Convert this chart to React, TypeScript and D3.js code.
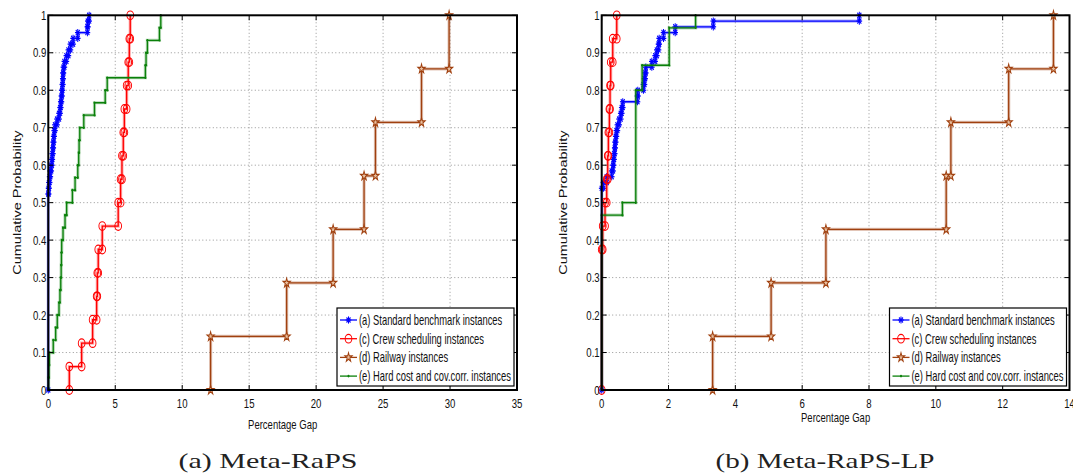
import { useEffect, useRef } from "react";
import * as d3 from "d3";

const width = 1073;
const height = 476;

// percentage gaps per instance
// (a) Meta-RaPS
const rapsStandard = [
  0, 0, 0, 0, 0, 0, 0, 0, 0, 0, 0, 0, 0, 0, 0, 0, 0,
  0, 0, 0, 0, 0, 0, 0, 0, 0, 0, 0, 0, 0, 0, 0, 0, 0,
  0.02, 0.05, 0.1, 0.15, 0.22, 0.27, 0.3, 0.34, 0.37, 0.4, 0.44, 0.5, 0.65, 0.8, 0.88, 0.93,
  0.98, 1.02, 1.05, 1.08, 1.1, 1.13, 1.2, 1.35, 1.5, 1.65, 1.85, 2.2, 2.92, 2.95, 3.05,
];
const rapsCrew = [1.57, 2.49, 3.31, 3.61, 3.66, 3.73, 4.03, 5.22, 5.4, 5.5, 5.6, 5.68, 5.85, 5.97, 6.05, 6.12];
const rapsRailway = [12.12, 17.8, 21.27, 23.58, 24.43, 27.87, 29.93];
const rapsHard = [
  0.02, 0.05, 0.08, 0.37, 0.55, 0.67, 0.8, 0.87, 0.93, 0.96, 0.98, 1.0, 1.1, 1.25, 1.37,
  1.8, 2.0, 2.2, 2.27, 2.3, 2.35, 2.65, 3.45, 4.25, 4.4, 7.25, 7.3, 7.4, 8.3, 8.4,
];

// (b) Meta-RaPS-LP
const lpStandard = [
  0, 0, 0, 0, 0, 0, 0, 0, 0, 0, 0, 0, 0, 0, 0, 0, 0, 0,
  0, 0, 0, 0, 0, 0, 0, 0, 0, 0, 0, 0, 0, 0, 0, 0, 0,
  0.05, 0.15, 0.3, 0.34, 0.35, 0.37, 0.39, 0.4, 0.42, 0.44, 0.47, 0.52, 0.57, 0.6, 0.63,
  1.07, 1.08, 1.25, 1.28, 1.3, 1.32, 1.5, 1.6, 1.65, 1.7, 1.72, 1.85, 2.2, 3.34, 7.71,
];
const lpCrew = [0, 0, 0, 0, 0, 0, 0.03, 0.1, 0.15, 0.18, 0.2, 0.23, 0.25, 0.27, 0.33, 0.45];
const lpRailway = [3.32, 5.07, 6.71, 10.31, 10.45, 12.18, 13.52];
const lpHard = [
  0, 0, 0, 0, 0, 0, 0, 0, 0, 0, 0, 0, 0, 0,
  0.62, 1.02, 1.02, 1.02, 1.02, 1.02, 1.02, 1.02, 1.02, 1.02,
  1.21, 1.21, 2.02, 2.02, 2.02, 2.81,
];

const legendLabels = [
  "(a) Standard benchmark instances",
  "(c) Crew scheduling instances",
  "(d) Railway instances",
  "(e) Hard cost and cov.corr. instances",
];
const seriesColors = ["#0000ff", "#ff0000", "#a0400f", "#0a800a"];
const seriesMarkers = ["star", "circle", "pentagram", "dot"];

const xLabel = "Percentage Gap";
const yLabel = "Cumulative Probability";

const panels = [
  { caption: "(a) Meta-RaPS", xMax: 35, left: 48.3, right: 517, capX: 268, capW: 179, xlabY: 429, ylabX: 17,
    data: [rapsStandard, rapsCrew, rapsRailway, rapsHard] },
  { caption: "(b) Meta-RaPS-LP", xMax: 14, left: 601.7, right: 1069.5, capX: 825, capW: 219, xlabY: 422, ylabX: 563,
    data: [lpStandard, lpCrew, lpRailway, lpHard] },
];

const top = 15.3;
const bottom = 390;
const tickFont = "'Liberation Sans', Arial, sans-serif";

// stair vertices of the empirical cdf (ties collapse into one jump)
function stairPoints(gaps: number[]) {
  const xs = gaps.slice().sort(d3.ascending);
  const n = xs.length;
  const pts: [number, number][] = [];
  let f = 0;
  let i = 0;
  while (i < n) {
    const v = xs[i];
    let j = i;
    while (j < n && xs[j] === v) j++;
    pts.push([v, f]);
    f = j / n;
    pts.push([v, f]);
    i = j;
  }
  return pts;
}

function drawMarker(g: any, kind: string, color: string, x: number, y: number) {
  const m = g.append("g").attr("transform", `translate(${x},${y}) scale(0.78,1)`);
  if (kind === "star") {
    const r = 3.6;
    [0, 45, 90, 135].forEach((a) => {
      const rad = (a * Math.PI) / 180;
      m.append("line")
        .attr("x1", -r * Math.cos(rad)).attr("y1", -r * Math.sin(rad))
        .attr("x2", r * Math.cos(rad)).attr("y2", r * Math.sin(rad))
        .attr("stroke", color).attr("stroke-width", 1.3);
    });
  } else if (kind === "circle") {
    m.append("circle").attr("r", 4.3).attr("fill", "none").attr("stroke", color).attr("stroke-width", 1.2);
  } else if (kind === "pentagram") {
    m.append("path")
      .attr("d", d3.symbol(d3.symbolStar, 26)())
      .attr("fill", "#e9c0a0").attr("stroke", color).attr("stroke-width", 1.2);
  } else {
    m.append("circle").attr("r", 1.3).attr("fill", color);
  }
}

function narrowText(g: any, x: number, y: number, text: string, size: number, sx: number, anchor = "start") {
  g.append("g")
    .attr("transform", `translate(${x},${y}) scale(${sx},1)`)
    .append("text")
    .attr("font-family", tickFont)
    .attr("font-size", size)
    .attr("text-anchor", anchor)
    .attr("fill", "#111")
    .text(text);
}

function App() {
  const d3Node = useRef<HTMLDivElement>(null);

  useEffect(() => {
    const root = d3.select(d3Node.current);
    root.selectAll("svg").remove();
    const svg = root
      .append("svg")
      .attr("width", width)
      .attr("height", height)
      .style("position", "absolute")
      .style("left", "0px")
      .style("top", "0px")
      .style("background", "#fff");

    const y = d3.scaleLinear().domain([0, 1]).range([bottom, top]);
    const yTicks = y.ticks(10);
    const fmt = d3.format(".1~f");

    panels.forEach((p) => {
      const x = d3.scaleLinear().domain([0, p.xMax]).range([p.left, p.right]);
      const xTicks = x.ticks(7);
      const g = svg.append("g");

      // grid
      xTicks.slice(1, -1).forEach((t) => {
        g.append("line").attr("x1", x(t)).attr("x2", x(t)).attr("y1", top).attr("y2", bottom)
          .attr("stroke", "#8a8a8a").attr("stroke-width", 0.9).attr("stroke-dasharray", "1,2.5");
      });
      yTicks.slice(1, -1).forEach((t) => {
        g.append("line").attr("x1", p.left).attr("x2", p.right).attr("y1", y(t)).attr("y2", y(t))
          .attr("stroke", "#8a8a8a").attr("stroke-width", 0.9).attr("stroke-dasharray", "1,2.5");
      });

      // series
      const line = d3.line<[number, number]>().x((d) => x(d[0])).y((d) => y(d[1]));
      p.data.forEach((gaps, si) => {
        const pts = stairPoints(gaps);
        const color = seriesColors[si];
        g.append("path").attr("d", line(pts)).attr("fill", "none")
          .attr("stroke", color).attr("stroke-opacity", 0.3).attr("stroke-width", 3.2);
        g.append("path").attr("d", line(pts)).attr("fill", "none")
          .attr("stroke", color).attr("stroke-width", 1.3);
        pts.forEach((d) => drawMarker(g, seriesMarkers[si], color, x(d[0]), y(d[1])));
      });

      // ticks inside the box
      xTicks.forEach((t) => {
        g.append("line").attr("x1", x(t)).attr("x2", x(t)).attr("y1", bottom).attr("y2", bottom - 5).attr("stroke", "#000");
        g.append("line").attr("x1", x(t)).attr("x2", x(t)).attr("y1", top).attr("y2", top + 5).attr("stroke", "#000");
        narrowText(g, x(t), 408, String(t), 13, 0.74, "middle");
      });
      yTicks.forEach((t) => {
        g.append("line").attr("x1", p.left).attr("x2", p.left + 5).attr("y1", y(t)).attr("y2", y(t)).attr("stroke", "#000");
        g.append("line").attr("x1", p.right).attr("x2", p.right - 5).attr("y1", y(t)).attr("y2", y(t)).attr("stroke", "#000");
        narrowText(g, p.left - 2, y(t) + 4.6, fmt(t), 13, 0.74, "end");
      });

      // box
      g.append("rect").attr("x", p.left).attr("y", top).attr("width", p.right - p.left).attr("height", bottom - top)
        .attr("fill", "none").attr("stroke", "#000").attr("stroke-width", 2);

      // axis labels
      narrowText(g, (p.left + p.right) / 2, p.xlabY, xLabel, 12.5, 0.76, "middle");
      g.append("g")
        .attr("transform", `translate(${p.ylabX + 4},${(top + bottom) / 2}) rotate(-90) scale(1,0.8)`)
        .append("text")
        .attr("font-family", tickFont)
        .attr("font-size", 14.5)
        .attr("text-anchor", "middle")
        .attr("fill", "#111")
        .text(yLabel);

      // legend
      const lw = 177;
      const lh = 78;
      const lx = p.right - 3 - lw;
      const ly = bottom - 4 - lh;
      g.append("rect").attr("x", lx).attr("y", ly).attr("width", lw).attr("height", lh)
        .attr("fill", "#fff").attr("stroke", "#000").attr("stroke-width", 1.2);
      legendLabels.forEach((lab, i) => {
        const ry = ly + 12 + i * 18.7;
        g.append("line").attr("x1", lx + 3).attr("x2", lx + 20).attr("y1", ry).attr("y2", ry)
          .attr("stroke", seriesColors[i]).attr("stroke-width", 1.3);
        drawMarker(g, seriesMarkers[i], seriesColors[i], lx + 11.5, ry);
        narrowText(g, lx + 22, ry + 5, lab, 14, 0.67, "start");
      });

      // caption
      svg.append("text")
        .attr("x", p.capX)
        .attr("y", 468)
        .attr("font-family", "'Liberation Serif', 'DejaVu Serif', serif")
        .attr("font-size", 22)
        .attr("text-anchor", "middle")
        .attr("textLength", p.capW)
        .attr("lengthAdjust", "spacingAndGlyphs")
        .attr("fill", "#222")
        .text(p.caption);
    });
  }, []);

  return <div ref={d3Node} />;
}

export default App;
